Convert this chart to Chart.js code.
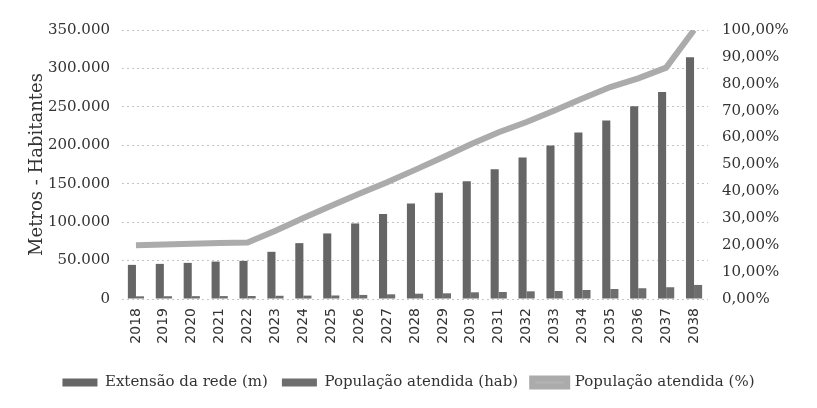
<!DOCTYPE html>
<html>
<head>
<meta charset="utf-8">
<script src="https://cdn.jsdelivr.net/npm/chart.js@4/dist/chart.umd.min.js"></script>
<style>
html,body{margin:0;padding:0;background:#fff;}
#wrap{width:817px;height:408px;}
</style>
</head>
<body>
<div id="wrap"><canvas id="c" width="817" height="408"></canvas></div>
<script>
const years = ['2018','2019','2020','2021','2022','2023','2024','2025','2026','2027','2028','2029','2030','2031','2032','2033','2034','2035','2036','2037','2038'];
const extensaoRede = [44400,45700,47000,48700,49600,61400,72700,85300,98300,110600,124400,138400,153100,168800,184000,199700,216700,232400,250800,269300,314600];
const populacaoHab = [3500,3600,3700,3800,3900,4200,4400,4600,5300,6100,6900,7400,8700,9100,10000,10400,11700,13000,14000,15300,18300];
const populacaoPct = [20.0,20.3,20.5,20.8,21.0,25.4,30.1,34.7,39.1,43.4,48.0,52.7,57.5,62.0,65.8,70.1,74.5,78.8,82.0,86.0,100.0];
const leftTicks = [0,50000,100000,150000,200000,250000,300000,350000];
const seriesNames = ['Extensão da rede (m)','População atendida (hab)','População atendida (%)'];

const serif = "'DejaVu Serif', 'Liberation Serif', serif";
const fmtLeft = v => v === 0 ? '0' : v.toLocaleString('de-DE');
const fmtRight = v => v.toFixed(2).replace('.', ',') + '%';

new Chart(document.getElementById('c'), {
  type: 'bar',
  data: {
    labels: years,
    datasets: [
      { label: seriesNames[0], data: extensaoRede, backgroundColor: '#666666', yAxisID: 'y', order: 1,
        categoryPercentage: 0.58, barPercentage: 1.0 },
      { label: seriesNames[1], data: populacaoHab, backgroundColor: '#6e6e6e', yAxisID: 'y', order: 2,
        categoryPercentage: 0.58, barPercentage: 1.0 },
      { label: seriesNames[2], type: 'line', data: populacaoPct, yAxisID: 'y1', order: 0,
        borderColor: '#ababab', backgroundColor: '#b3b3b3', borderWidth: 6, pointRadius: 0,
        tension: 0, borderJoinStyle: 'miter' }
    ]
  },
  options: {
    responsive: false,
    animation: false,
    devicePixelRatio: 1,
    layout: { padding: { top: 30, left: 0, right: 0, bottom: 8 } },
    plugins: {
      tooltip: { enabled: false },
      legend: {
        position: 'bottom',
        labels: {
          boxWidth: 35, boxHeight: 8, padding: 14,
          color: '#333',
          font: { family: serif, size: 15 },
          sort: (a, b) => a.datasetIndex - b.datasetIndex
        }
      }
    },
    scales: {
      x: {
        grid: { display: false, drawTicks: false },
        border: { display: false },
        ticks: { color: '#333', minRotation: 90, maxRotation: 90, padding: 9,
                 font: { family: "'DejaVu Sans', sans-serif", size: 14 } },
        afterFit: s => { s.height = 62; }
      },
      y: {
        position: 'left',
        min: 0, max: 350000,
        afterBuildTicks: s => { s.ticks = leftTicks.map(v => ({ value: v })); },
        grid: { color: '#c4c4c4', drawTicks: false, lineWidth: 1 },
        border: { display: false, dash: [2, 3] },
        ticks: { color: '#333', padding: 12, font: { family: serif, size: 15 }, callback: v => fmtLeft(v) },
        title: { display: true, text: 'Metros - Habitantes', color: '#333', font: { family: serif, size: 18 }, padding: { top: 27, bottom: 4 } },
        afterFit: s => { s.width = 122; }
      },
      y1: {
        position: 'right',
        min: 0, max: 100,
        ticks: { stepSize: 10, color: '#333', padding: 14, font: { family: serif, size: 15 }, callback: v => fmtRight(v) },
        grid: { display: false, drawTicks: false },
        border: { display: false },
        afterFit: s => { s.width = 109; }
      }
    }
  }
});
</script>
</body>
</html>
